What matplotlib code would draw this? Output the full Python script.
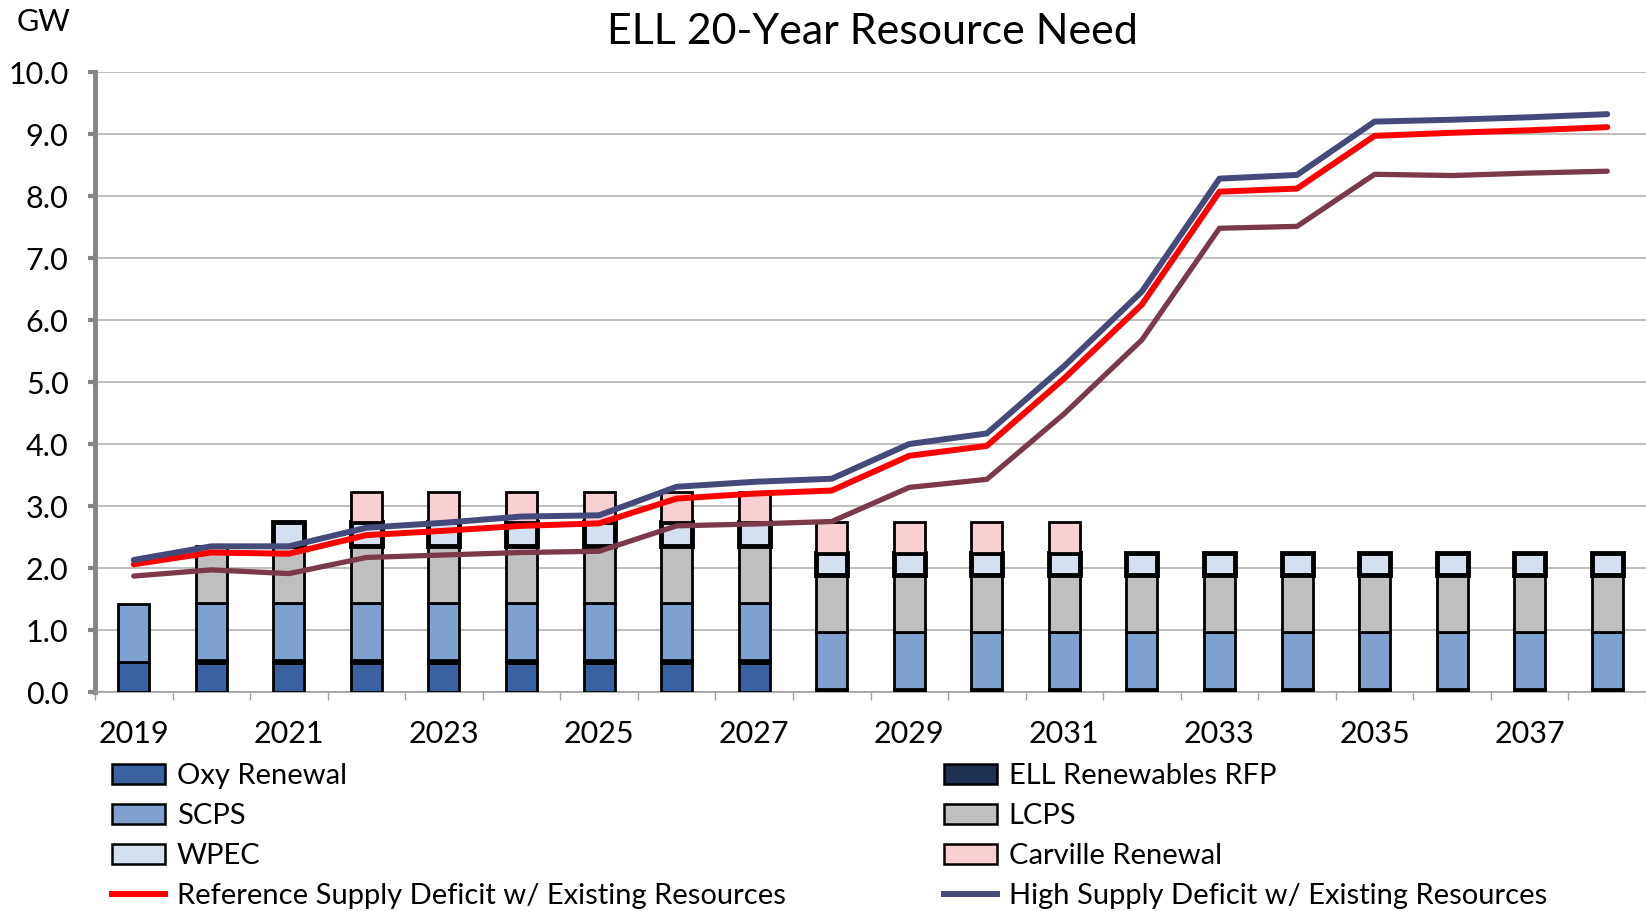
import numpy as np
import matplotlib
matplotlib.use('Agg')
import matplotlib.pyplot as plt
from matplotlib.patches import Patch
from matplotlib.lines import Line2D

# --------------------------------------------
#           data (GW)
# --------------------------------------------
years = list(range(2019, 2039))

oxy_renewal = [0.48] + [0.47] * 8 + [0.0] * 11
ell_rfp = [0.0] + [0.04] * 8 + [0.05] * 11
scps = [0.94] + [0.93] * 8 + [0.92] * 11
lcps = [0.0] + [0.92] * 8 + [0.92] * 11
wpec = [0.0, 0.0] + [0.38] * 7 + [0.36] * 11
carville = [0.0, 0.0, 0.0] + [0.48] * 6 + [0.49] * 4 + [0.0] * 7

ref_deficit = [2.06, 2.25, 2.23, 2.53, 2.60, 2.68, 2.72, 3.12, 3.20, 3.25,
               3.81, 3.97, 5.06, 6.25, 8.07, 8.12, 8.97, 9.02, 9.06, 9.11]
high_deficit = [2.13, 2.35, 2.35, 2.65, 2.73, 2.83, 2.85, 3.31, 3.39, 3.44,
                4.00, 4.17, 5.26, 6.46, 8.28, 8.34, 9.20, 9.23, 9.27, 9.32]
low_deficit = [1.87, 1.97, 1.91, 2.17, 2.21, 2.25, 2.27, 2.68, 2.71, 2.75,
               3.30, 3.43, 4.49, 5.68, 7.48, 7.51, 8.35, 8.33, 8.37, 8.40]

plt.rcParams['font.family'] = ['Lato', 'DejaVu Sans']

# ----------------- 그림 그리기
fig = plt.figure(figsize=(16.46, 9.11), dpi=100)
ax = fig.add_axes([95 / 1646, 1 - 692 / 911, 1 - 95 / 1646, (692 - 72) / 911])

x = np.arange(len(years))
w = 0.4

stack = [
    (oxy_renewal, '#3A62A0', 2.0),
    (ell_rfp, '#1F3050', 2.0),
    (scps, '#7FA1D0', 2.0),
    (lcps, '#BFBFBF', 2.0),
    (wpec, '#D4E0F0', 3.5),
    (carville, '#F8D0D2', 2.0),
]
bottom = np.zeros(len(years))
for vals, col, lw in stack:
    vals = np.array(vals)
    m = vals > 0
    ax.bar(x[m], vals[m], w, bottom=bottom[m], color=col,
           edgecolor='black', linewidth=lw, zorder=3)
    bottom += vals

ax.plot(x, low_deficit, color='#7B3A4A', lw=3.8, zorder=4, solid_capstyle='round')
ax.plot(x, ref_deficit, color='#FF0000', lw=4.3, zorder=5, solid_capstyle='round')
ax.plot(x, high_deficit, color='#444B7A', lw=4.3, zorder=6, solid_capstyle='round')

ax.set_ylim(0, 10)
ax.set_xlim(-0.5, 19.45)
ax.set_yticks(np.arange(0, 11, 1))
ax.set_yticklabels(['%.1f' % v for v in range(11)])
ax.set_xticks(x[::2])
ax.set_xticklabels([str(y) for y in years[::2]])
ax.set_xticks(np.arange(-0.5, 20, 1), minor=True)

ax.grid(axis='y', color='#BFBFBF', lw=1.5, zorder=0)
for s in ['top', 'right']:
    ax.spines[s].set_visible(False)
ax.spines['left'].set_color('#868686')
ax.spines['left'].set_linewidth(3.5)
ax.spines['bottom'].set_color('#A0A0A0')
ax.spines['bottom'].set_linewidth(1.2)

ax.tick_params(axis='y', length=5, width=3, color='#868686', pad=14, labelsize=22)
ax.tick_params(axis='x', which='major', length=0, pad=20, labelsize=22)
ax.tick_params(axis='x', which='minor', length=6, width=1, color='#A0A0A0')

fig.text(44 / 1646, 1 - 22 / 911, 'GW', fontsize=22, ha='center', va='center')
fig.text(872 / 1646, 1 - 32 / 911, 'ELL 20-Year Resource Need', fontsize=31,
         ha='center', va='center')

# --------------------------------------------
#           legend
# --------------------------------------------
def box(col, lw=1.8):
    return Patch(facecolor=col, edgecolor='black', linewidth=lw)

left_h = [box('#3A62A0'), box('#7FA1D0'), box('#D4E0F0'),
          Line2D([], [], color='#FF0000', lw=4.3)]
left_l = ['Oxy Renewal', 'SCPS', 'WPEC',
          'Reference Supply Deficit w/ Existing Resources']
right_h = [box('#1F3050'), box('#BFBFBF'), box('#F8D0D2'),
           Line2D([], [], color='#444B7A', lw=4.3)]
right_l = ['ELL Renewables RFP', 'LCPS', 'Carville Renewal',
           'High Supply Deficit w/ Existing Resources']

kw = dict(frameon=False, fontsize=21, handlelength=1.8, handleheight=0.7,
          handletextpad=0.42, labelspacing=0.48, borderpad=0, borderaxespad=0,
          loc='upper left')
fig.legend(left_h, left_l, bbox_to_anchor=(112 / 1646, 1 - 763 / 911), **kw)
fig.legend(right_h, right_l, bbox_to_anchor=(944 / 1646, 1 - 763 / 911), **kw)

fig.savefig('out.png', dpi=100)
